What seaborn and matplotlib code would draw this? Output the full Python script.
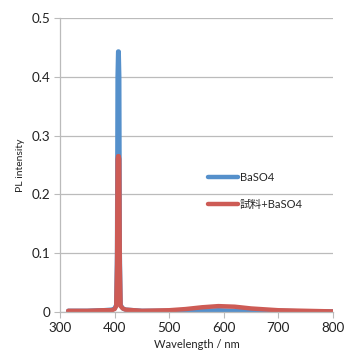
import matplotlib
matplotlib.use("Agg")
import matplotlib.pyplot as plt
import seaborn as sns
import pandas as pd

wavelength = [315, 350, 380, 395, 400, 403, 404.5, 405.5, 406.5, 407.5, 408.5, 409.5, 411, 415, 420, 450, 500, 530, 560, 590, 620, 650, 700, 750, 800]
baso4 = [0.002, 0.002, 0.003, 0.004, 0.006, 0.012, 0.10, 0.40, 0.443, 0.443, 0.40, 0.10, 0.012, 0.006, 0.004, 0.002, 0.002, 0.002, 0.002, 0.003, 0.002, 0.002, 0.002, 0.001, 0.001]
sample = [0.002, 0.002, 0.003, 0.003, 0.005, 0.010, 0.08, 0.26, 0.265, 0.265, 0.26, 0.08, 0.010, 0.006, 0.004, 0.002, 0.003, 0.005, 0.008, 0.010, 0.009, 0.006, 0.003, 0.002, 0.001]
series_names = ["BaSO4", "試料+BaSO4"]
x_ticks = [300, 400, 500, 600, 700, 800]
y_ticks = [0, 0.1, 0.2, 0.3, 0.4, 0.5]

df = pd.DataFrame({
    "wl": wavelength * 2,
    "val": baso4 + sample,
    "series": [series_names[0]] * len(wavelength) + [series_names[1]] * len(wavelength),
})

sns.set_style("white")
plt.rcParams["font.family"] = ["Lato", "Noto Sans CJK JP", "DejaVu Sans"]

fig = plt.figure(figsize=(3.46, 3.6), dpi=100)
ax = fig.add_axes([60 / 346, 48 / 360, 273 / 346, 294 / 360])

palette = {series_names[0]: "#5590CB", series_names[1]: "#CD5B55"}
sns.lineplot(data=df, x="wl", y="val", hue="series", palette=palette, ax=ax,
             linewidth=3.2, legend=True, estimator=None, sort=False,
             solid_capstyle="round", solid_joinstyle="round")

ax.set_xlim(300, 800)
ax.set_ylim(0, 0.5)
ax.set_xticks(x_ticks)
ax.set_yticks(y_ticks)
ax.set_xticklabels([str(t) for t in x_ticks])
ax.set_yticklabels(["0", "0.1", "0.2", "0.3", "0.4", "0.5"])
ax.yaxis.grid(True, color="#BBBBBB", linewidth=0.9)
ax.set_axisbelow(True)
for s in ["top", "right"]:
    ax.spines[s].set_visible(False)
for s in ["left", "bottom"]:
    ax.spines[s].set_color("#BBBBBB")
    ax.spines[s].set_linewidth(0.9)
ax.tick_params(axis="both", which="major", labelsize=9.7, length=4, color="#BBBBBB",
               direction="out", bottom=True, left=True, pad=3, labelcolor="#222222")
ax.set_xlabel("Wavelength / nm", fontsize=8, labelpad=4, color="#222222")
ax.set_ylabel("PL intensity", fontsize=7.5, labelpad=5, color="#222222")

handles, labels = ax.get_legend_handles_labels()
ax.legend(handles, labels, loc="center left", bbox_to_anchor=(208 / 346, 1 - 191 / 360),
          bbox_transform=fig.transFigure, frameon=False, fontsize=8,
          handlelength=2.7, handletextpad=0.15, labelspacing=1.5, borderpad=0,
          borderaxespad=0)
for line in ax.get_legend().get_lines():
    line.set_linewidth(3.2)

fig.savefig("out.png", dpi=100)
